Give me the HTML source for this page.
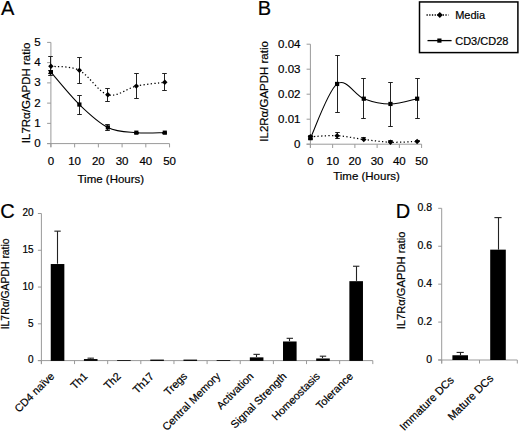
<!DOCTYPE html>
<html><head><meta charset="utf-8"><style>
html,body{margin:0;padding:0;background:#fff;width:520px;height:432px;overflow:hidden}
svg{display:block}
text{font-family:"Liberation Sans",sans-serif;fill:#000;stroke:#000;stroke-width:0.2px}
</style></head><body>
<svg width="520" height="432" viewBox="0 0 520 432">
<rect width="520" height="432" fill="#fff"/>
<text x="1" y="15.2" font-size="20" text-anchor="start">A</text>
<line x1="50.9" y1="42.4" x2="50.9" y2="147.1" stroke="#9a9a9a" stroke-width="1"/>
<line x1="47.1" y1="143.6" x2="50.9" y2="143.6" stroke="#9a9a9a" stroke-width="1"/>
<text x="40.6" y="147.1" font-size="11.5" text-anchor="end">0</text>
<line x1="47.1" y1="123.36" x2="50.9" y2="123.36" stroke="#9a9a9a" stroke-width="1"/>
<text x="40.6" y="126.86" font-size="11.5" text-anchor="end">1</text>
<line x1="47.1" y1="103.12" x2="50.9" y2="103.12" stroke="#9a9a9a" stroke-width="1"/>
<text x="40.6" y="106.62" font-size="11.5" text-anchor="end">2</text>
<line x1="47.1" y1="82.88" x2="50.9" y2="82.88" stroke="#9a9a9a" stroke-width="1"/>
<text x="40.6" y="86.38" font-size="11.5" text-anchor="end">3</text>
<line x1="47.1" y1="62.64" x2="50.9" y2="62.64" stroke="#9a9a9a" stroke-width="1"/>
<text x="40.6" y="66.14" font-size="11.5" text-anchor="end">4</text>
<line x1="47.1" y1="42.4" x2="50.9" y2="42.4" stroke="#9a9a9a" stroke-width="1"/>
<text x="40.6" y="45.9" font-size="11.5" text-anchor="end">5</text>
<line x1="47.1" y1="143.6" x2="169.55" y2="143.6" stroke="#9a9a9a" stroke-width="1"/>
<line x1="50.9" y1="143.6" x2="50.9" y2="147.4" stroke="#9a9a9a" stroke-width="1"/>
<text x="50.9" y="164.6" font-size="11.5" text-anchor="middle">0</text>
<line x1="74.63" y1="143.6" x2="74.63" y2="147.4" stroke="#9a9a9a" stroke-width="1"/>
<text x="74.63" y="164.6" font-size="11.5" text-anchor="middle">10</text>
<line x1="98.36" y1="143.6" x2="98.36" y2="147.4" stroke="#9a9a9a" stroke-width="1"/>
<text x="98.36" y="164.6" font-size="11.5" text-anchor="middle">20</text>
<line x1="122.09" y1="143.6" x2="122.09" y2="147.4" stroke="#9a9a9a" stroke-width="1"/>
<text x="122.09" y="164.6" font-size="11.5" text-anchor="middle">30</text>
<line x1="145.82" y1="143.6" x2="145.82" y2="147.4" stroke="#9a9a9a" stroke-width="1"/>
<text x="145.82" y="164.6" font-size="11.5" text-anchor="middle">40</text>
<line x1="169.55" y1="143.6" x2="169.55" y2="147.4" stroke="#9a9a9a" stroke-width="1"/>
<text x="169.55" y="164.6" font-size="11.5" text-anchor="middle">50</text>
<text x="110.85" y="182.6" font-size="11.5" text-anchor="middle">Time (Hours)</text>
<text x="0" y="0" font-size="11.5" text-anchor="middle" transform="translate(29.8,92.9) rotate(-90)">IL7R&#945;/GAPDH ratio</text>
<line x1="50.5" y1="56.77" x2="50.5" y2="75.8" stroke="#222" stroke-width="1"/>
<line x1="48.2" y1="56.5" x2="52.8" y2="56.5" stroke="#222" stroke-width="1"/>
<line x1="48.2" y1="75.5" x2="52.8" y2="75.5" stroke="#222" stroke-width="1"/>
<line x1="79.5" y1="57.78" x2="79.5" y2="83.28" stroke="#222" stroke-width="1"/>
<line x1="77.2" y1="57.5" x2="81.8" y2="57.5" stroke="#222" stroke-width="1"/>
<line x1="77.2" y1="83.5" x2="81.8" y2="83.5" stroke="#222" stroke-width="1"/>
<line x1="107.5" y1="88.55" x2="107.5" y2="101.1" stroke="#222" stroke-width="1"/>
<line x1="105.2" y1="88.5" x2="109.8" y2="88.5" stroke="#222" stroke-width="1"/>
<line x1="105.2" y1="101.5" x2="109.8" y2="101.5" stroke="#222" stroke-width="1"/>
<line x1="136.5" y1="73.97" x2="136.5" y2="98.87" stroke="#222" stroke-width="1"/>
<line x1="134.2" y1="73.5" x2="138.8" y2="73.5" stroke="#222" stroke-width="1"/>
<line x1="134.2" y1="98.5" x2="138.8" y2="98.5" stroke="#222" stroke-width="1"/>
<line x1="164.5" y1="73.97" x2="164.5" y2="90.98" stroke="#222" stroke-width="1"/>
<line x1="162.2" y1="73.5" x2="166.8" y2="73.5" stroke="#222" stroke-width="1"/>
<line x1="162.2" y1="90.5" x2="166.8" y2="90.5" stroke="#222" stroke-width="1"/>
<line x1="50.5" y1="70.74" x2="50.5" y2="73.77" stroke="#222" stroke-width="1"/>
<line x1="48.2" y1="70.5" x2="52.8" y2="70.5" stroke="#222" stroke-width="1"/>
<line x1="48.2" y1="73.5" x2="52.8" y2="73.5" stroke="#222" stroke-width="1"/>
<line x1="79.5" y1="95.63" x2="79.5" y2="114.05" stroke="#222" stroke-width="1"/>
<line x1="77.2" y1="95.5" x2="81.8" y2="95.5" stroke="#222" stroke-width="1"/>
<line x1="77.2" y1="114.5" x2="81.8" y2="114.5" stroke="#222" stroke-width="1"/>
<line x1="107.5" y1="124.78" x2="107.5" y2="130.04" stroke="#222" stroke-width="1"/>
<line x1="105.2" y1="124.5" x2="109.8" y2="124.5" stroke="#222" stroke-width="1"/>
<line x1="105.2" y1="130.5" x2="109.8" y2="130.5" stroke="#222" stroke-width="1"/>
<line x1="136.5" y1="132.06" x2="136.5" y2="133.28" stroke="#222" stroke-width="1"/>
<line x1="134.2" y1="132.5" x2="138.8" y2="132.5" stroke="#222" stroke-width="1"/>
<line x1="134.2" y1="133.5" x2="138.8" y2="133.5" stroke="#222" stroke-width="1"/>
<line x1="164.5" y1="132.06" x2="164.5" y2="133.28" stroke="#222" stroke-width="1"/>
<line x1="162.2" y1="132.5" x2="166.8" y2="132.5" stroke="#222" stroke-width="1"/>
<line x1="162.2" y1="133.5" x2="166.8" y2="133.5" stroke="#222" stroke-width="1"/>
<path d="M50.9,66.28 C55.65,66.96 69.88,65.57 79.38,70.33 C88.87,75.09 98.36,92.19 107.85,94.82 C117.34,97.45 126.84,88.21 136.33,86.12 C145.82,84.03 160.06,82.91 164.8,82.27" fill="none" stroke="#000" stroke-width="1.25" stroke-dasharray="1.3,2.3"/>
<path d="M50.9,72.15 C55.65,77.55 69.88,95.33 79.38,104.54 C88.87,113.75 98.36,122.72 107.85,127.41 C117.34,132.1 126.84,131.79 136.33,132.67 C145.82,133.55 160.06,132.67 164.8,132.67" fill="none" stroke="#000" stroke-width="1.05"/>
<path d="M50.9,63.58 L53.6,66.28 L50.9,68.98 L48.2,66.28 Z" fill="#000"/>
<path d="M79.38,67.63 L82.08,70.33 L79.38,73.03 L76.68,70.33 Z" fill="#000"/>
<path d="M107.85,92.12 L110.55,94.82 L107.85,97.52 L105.15,94.82 Z" fill="#000"/>
<path d="M136.33,83.42 L139.03,86.12 L136.33,88.82 L133.63,86.12 Z" fill="#000"/>
<path d="M164.8,79.57 L167.5,82.27 L164.8,84.97 L162.1,82.27 Z" fill="#000"/>
<rect x="48.8" y="70.05" width="4.2" height="4.2" fill="#000"/>
<rect x="77.28" y="102.44" width="4.2" height="4.2" fill="#000"/>
<rect x="105.75" y="125.31" width="4.2" height="4.2" fill="#000"/>
<rect x="134.23" y="130.57" width="4.2" height="4.2" fill="#000"/>
<rect x="162.7" y="130.57" width="4.2" height="4.2" fill="#000"/>
<text x="257.8" y="15.2" font-size="20" text-anchor="start">B</text>
<line x1="310.4" y1="44.2" x2="310.4" y2="147.7" stroke="#9a9a9a" stroke-width="1"/>
<line x1="306.6" y1="144.2" x2="310.4" y2="144.2" stroke="#9a9a9a" stroke-width="1"/>
<text x="300.5" y="147.6" font-size="11.5" text-anchor="end">0</text>
<line x1="306.6" y1="119.2" x2="310.4" y2="119.2" stroke="#9a9a9a" stroke-width="1"/>
<text x="300.5" y="122.6" font-size="11.5" text-anchor="end">0.01</text>
<line x1="306.6" y1="94.2" x2="310.4" y2="94.2" stroke="#9a9a9a" stroke-width="1"/>
<text x="300.5" y="97.6" font-size="11.5" text-anchor="end">0.02</text>
<line x1="306.6" y1="69.2" x2="310.4" y2="69.2" stroke="#9a9a9a" stroke-width="1"/>
<text x="300.5" y="72.6" font-size="11.5" text-anchor="end">0.03</text>
<line x1="306.6" y1="44.2" x2="310.4" y2="44.2" stroke="#9a9a9a" stroke-width="1"/>
<text x="300.5" y="47.6" font-size="11.5" text-anchor="end">0.04</text>
<line x1="306.6" y1="144.2" x2="421.6" y2="144.2" stroke="#9a9a9a" stroke-width="1"/>
<line x1="310.4" y1="144.2" x2="310.4" y2="148" stroke="#9a9a9a" stroke-width="1"/>
<text x="310.4" y="165.2" font-size="11.5" text-anchor="middle">0</text>
<line x1="332.64" y1="144.2" x2="332.64" y2="148" stroke="#9a9a9a" stroke-width="1"/>
<text x="332.64" y="165.2" font-size="11.5" text-anchor="middle">10</text>
<line x1="354.88" y1="144.2" x2="354.88" y2="148" stroke="#9a9a9a" stroke-width="1"/>
<text x="354.88" y="165.2" font-size="11.5" text-anchor="middle">20</text>
<line x1="377.12" y1="144.2" x2="377.12" y2="148" stroke="#9a9a9a" stroke-width="1"/>
<text x="377.12" y="165.2" font-size="11.5" text-anchor="middle">30</text>
<line x1="399.36" y1="144.2" x2="399.36" y2="148" stroke="#9a9a9a" stroke-width="1"/>
<text x="399.36" y="165.2" font-size="11.5" text-anchor="middle">40</text>
<line x1="421.6" y1="144.2" x2="421.6" y2="148" stroke="#9a9a9a" stroke-width="1"/>
<text x="421.6" y="165.2" font-size="11.5" text-anchor="middle">50</text>
<text x="366.5" y="179.6" font-size="11.5" text-anchor="middle">Time (Hours)</text>
<text x="0" y="0" font-size="11.5" text-anchor="middle" transform="translate(267.5,91.4) rotate(-90)">IL2R&#945;/GAPDH ratio</text>
<line x1="310.5" y1="135.2" x2="310.5" y2="138.2" stroke="#222" stroke-width="1"/>
<line x1="308.2" y1="135.5" x2="312.8" y2="135.5" stroke="#222" stroke-width="1"/>
<line x1="308.2" y1="138.5" x2="312.8" y2="138.5" stroke="#222" stroke-width="1"/>
<line x1="337.5" y1="132.2" x2="337.5" y2="138.7" stroke="#222" stroke-width="1"/>
<line x1="335.2" y1="132.5" x2="339.8" y2="132.5" stroke="#222" stroke-width="1"/>
<line x1="335.2" y1="138.5" x2="339.8" y2="138.5" stroke="#222" stroke-width="1"/>
<line x1="363.5" y1="137.95" x2="363.5" y2="139.95" stroke="#222" stroke-width="1"/>
<line x1="361.2" y1="137.5" x2="365.8" y2="137.5" stroke="#222" stroke-width="1"/>
<line x1="361.2" y1="139.5" x2="365.8" y2="139.5" stroke="#222" stroke-width="1"/>
<line x1="390.5" y1="140.95" x2="390.5" y2="141.95" stroke="#222" stroke-width="1"/>
<line x1="388.2" y1="140.5" x2="392.8" y2="140.5" stroke="#222" stroke-width="1"/>
<line x1="388.2" y1="141.5" x2="392.8" y2="141.5" stroke="#222" stroke-width="1"/>
<line x1="417.5" y1="140.95" x2="417.5" y2="141.95" stroke="#222" stroke-width="1"/>
<line x1="415.2" y1="140.5" x2="419.8" y2="140.5" stroke="#222" stroke-width="1"/>
<line x1="415.2" y1="141.5" x2="419.8" y2="141.5" stroke="#222" stroke-width="1"/>
<line x1="310.5" y1="136.7" x2="310.5" y2="139.7" stroke="#222" stroke-width="1"/>
<line x1="308.2" y1="136.5" x2="312.8" y2="136.5" stroke="#222" stroke-width="1"/>
<line x1="308.2" y1="139.5" x2="312.8" y2="139.5" stroke="#222" stroke-width="1"/>
<line x1="337.5" y1="55.7" x2="337.5" y2="112.2" stroke="#222" stroke-width="1"/>
<line x1="335.2" y1="55.5" x2="339.8" y2="55.5" stroke="#222" stroke-width="1"/>
<line x1="335.2" y1="112.5" x2="339.8" y2="112.5" stroke="#222" stroke-width="1"/>
<line x1="363.5" y1="78.7" x2="363.5" y2="118.95" stroke="#222" stroke-width="1"/>
<line x1="361.2" y1="78.5" x2="365.8" y2="78.5" stroke="#222" stroke-width="1"/>
<line x1="361.2" y1="118.5" x2="365.8" y2="118.5" stroke="#222" stroke-width="1"/>
<line x1="390.5" y1="82.7" x2="390.5" y2="126.2" stroke="#222" stroke-width="1"/>
<line x1="388.2" y1="82.5" x2="392.8" y2="82.5" stroke="#222" stroke-width="1"/>
<line x1="388.2" y1="126.5" x2="392.8" y2="126.5" stroke="#222" stroke-width="1"/>
<line x1="417.5" y1="78.7" x2="417.5" y2="118.45" stroke="#222" stroke-width="1"/>
<line x1="415.2" y1="78.5" x2="419.8" y2="78.5" stroke="#222" stroke-width="1"/>
<line x1="415.2" y1="118.5" x2="419.8" y2="118.5" stroke="#222" stroke-width="1"/>
<path d="M310.4,136.7 C314.85,136.53 328.19,135.24 337.09,135.7 C345.98,136.16 354.88,138.37 363.78,139.45 C372.67,140.53 381.57,141.87 390.46,142.2 C399.36,142.53 412.7,141.57 417.15,141.45" fill="none" stroke="#000" stroke-width="1.25" stroke-dasharray="1.3,2.3"/>
<path d="M310.4,138.2 C314.85,129.16 328.19,90.53 337.09,83.95 C345.98,77.37 354.88,95.37 363.78,98.7 C372.67,102.03 381.57,103.95 390.46,103.95 C399.36,103.95 412.7,99.57 417.15,98.7" fill="none" stroke="#000" stroke-width="1.05"/>
<path d="M310.4,134 L313.1,136.7 L310.4,139.4 L307.7,136.7 Z" fill="#000"/>
<path d="M337.09,133 L339.79,135.7 L337.09,138.4 L334.39,135.7 Z" fill="#000"/>
<path d="M363.78,136.75 L366.48,139.45 L363.78,142.15 L361.08,139.45 Z" fill="#000"/>
<path d="M390.46,139.5 L393.16,142.2 L390.46,144.9 L387.76,142.2 Z" fill="#000"/>
<path d="M417.15,138.75 L419.85,141.45 L417.15,144.15 L414.45,141.45 Z" fill="#000"/>
<rect x="308.3" y="136.1" width="4.2" height="4.2" fill="#000"/>
<rect x="334.99" y="81.85" width="4.2" height="4.2" fill="#000"/>
<rect x="361.68" y="96.6" width="4.2" height="4.2" fill="#000"/>
<rect x="388.36" y="101.85" width="4.2" height="4.2" fill="#000"/>
<rect x="415.05" y="96.6" width="4.2" height="4.2" fill="#000"/>
<rect x="419.5" y="1.95" width="98.4" height="50.65" fill="none" stroke="#000" stroke-width="1.5"/>
<line x1="426.5" y1="15" x2="448.5" y2="15" stroke="#000" stroke-width="1.3" stroke-dasharray="1.3,1.4"/>
<path d="M439.8,12 L442.8,15 L439.8,18 L436.8,15 Z" fill="#000"/>
<line x1="427.5" y1="40.6" x2="451.6" y2="40.6" stroke="#000" stroke-width="1.3"/>
<rect x="437.3" y="38.5" width="4.2" height="4.2" fill="#000"/>
<text x="455.2" y="19.2" font-size="11" text-anchor="start">Media</text>
<text x="455.2" y="44.5" font-size="11" text-anchor="start">CD3/CD28</text>
<text x="0.3" y="218.3" font-size="20" text-anchor="start">C</text>
<line x1="41.4" y1="213.5" x2="41.4" y2="364.1" stroke="#9a9a9a" stroke-width="1"/>
<line x1="37.9" y1="360.6" x2="41.4" y2="360.6" stroke="#9a9a9a" stroke-width="1"/>
<text x="33.5" y="363.4" font-size="10" text-anchor="end">0</text>
<line x1="37.9" y1="323.83" x2="41.4" y2="323.83" stroke="#9a9a9a" stroke-width="1"/>
<text x="33.5" y="326.63" font-size="10" text-anchor="end">5</text>
<line x1="37.9" y1="287.05" x2="41.4" y2="287.05" stroke="#9a9a9a" stroke-width="1"/>
<text x="33.5" y="289.85" font-size="10" text-anchor="end">10</text>
<line x1="37.9" y1="250.28" x2="41.4" y2="250.28" stroke="#9a9a9a" stroke-width="1"/>
<text x="33.5" y="253.08" font-size="10" text-anchor="end">15</text>
<line x1="37.9" y1="213.5" x2="41.4" y2="213.5" stroke="#9a9a9a" stroke-width="1"/>
<text x="33.5" y="216.3" font-size="10" text-anchor="end">20</text>
<line x1="37.9" y1="360.6" x2="372.8" y2="360.6" stroke="#9a9a9a" stroke-width="1"/>
<line x1="41.4" y1="360.6" x2="41.4" y2="364.1" stroke="#9a9a9a" stroke-width="1"/>
<line x1="74.54" y1="360.6" x2="74.54" y2="364.1" stroke="#9a9a9a" stroke-width="1"/>
<line x1="107.68" y1="360.6" x2="107.68" y2="364.1" stroke="#9a9a9a" stroke-width="1"/>
<line x1="140.82" y1="360.6" x2="140.82" y2="364.1" stroke="#9a9a9a" stroke-width="1"/>
<line x1="173.96" y1="360.6" x2="173.96" y2="364.1" stroke="#9a9a9a" stroke-width="1"/>
<line x1="207.1" y1="360.6" x2="207.1" y2="364.1" stroke="#9a9a9a" stroke-width="1"/>
<line x1="240.24" y1="360.6" x2="240.24" y2="364.1" stroke="#9a9a9a" stroke-width="1"/>
<line x1="273.38" y1="360.6" x2="273.38" y2="364.1" stroke="#9a9a9a" stroke-width="1"/>
<line x1="306.52" y1="360.6" x2="306.52" y2="364.1" stroke="#9a9a9a" stroke-width="1"/>
<line x1="339.66" y1="360.6" x2="339.66" y2="364.1" stroke="#9a9a9a" stroke-width="1"/>
<line x1="372.8" y1="360.6" x2="372.8" y2="364.1" stroke="#9a9a9a" stroke-width="1"/>
<text x="0" y="0" font-size="10.4" text-anchor="middle" transform="translate(8.5,283.85) rotate(-90)">IL7R&#945;/GAPDH ratio</text>
<rect x="50.75" y="264.03" width="13.6" height="96.87" fill="#000"/>
<line x1="57.5" y1="231.15" x2="57.5" y2="263.73" stroke="#222" stroke-width="1.1"/>
<line x1="54.35" y1="231.15" x2="60.75" y2="231.15" stroke="#222" stroke-width="1.1"/>
<text x="0" y="0" font-size="10.8" text-anchor="end" transform="translate(55.05,376.9) rotate(-45)">CD4 na&#239;ve</text>
<rect x="83.93" y="359.06" width="13.6" height="1.84" fill="#000"/>
<line x1="90.5" y1="358.17" x2="90.5" y2="358.76" stroke="#222" stroke-width="1.1"/>
<line x1="87.53" y1="358.17" x2="93.93" y2="358.17" stroke="#222" stroke-width="1.1"/>
<text x="0" y="0" font-size="10.8" text-anchor="end" transform="translate(88.23,376.9) rotate(-45)">Th1</text>
<rect x="117.11" y="360.1" width="13.6" height="0.8" fill="#000"/>
<text x="0" y="0" font-size="10.8" text-anchor="end" transform="translate(121.41,376.9) rotate(-45)">Th2</text>
<rect x="150.29" y="359.6" width="13.6" height="1.3" fill="#000"/>
<text x="0" y="0" font-size="10.8" text-anchor="end" transform="translate(154.59,376.9) rotate(-45)">Th17</text>
<rect x="183.47" y="359.6" width="13.6" height="1.3" fill="#000"/>
<text x="0" y="0" font-size="10.8" text-anchor="end" transform="translate(187.77,376.9) rotate(-45)">Tregs</text>
<rect x="216.65" y="360.1" width="13.6" height="0.8" fill="#000"/>
<text x="0" y="0" font-size="10.8" text-anchor="end" transform="translate(220.95,376.9) rotate(-45)">Central Memory</text>
<rect x="249.83" y="357.37" width="13.6" height="3.53" fill="#000"/>
<line x1="256.5" y1="354.35" x2="256.5" y2="357.07" stroke="#222" stroke-width="1.1"/>
<line x1="253.43" y1="354.35" x2="259.83" y2="354.35" stroke="#222" stroke-width="1.1"/>
<text x="0" y="0" font-size="10.8" text-anchor="end" transform="translate(254.13,376.9) rotate(-45)">Activation</text>
<rect x="283.01" y="341.48" width="13.6" height="19.42" fill="#000"/>
<line x1="289.5" y1="338.31" x2="289.5" y2="341.18" stroke="#222" stroke-width="1.1"/>
<line x1="286.61" y1="338.31" x2="293.01" y2="338.31" stroke="#222" stroke-width="1.1"/>
<text x="0" y="0" font-size="10.8" text-anchor="end" transform="translate(287.31,376.9) rotate(-45)">Signal Strength</text>
<rect x="316.19" y="358.47" width="13.6" height="2.43" fill="#000"/>
<line x1="322.5" y1="356.19" x2="322.5" y2="358.17" stroke="#222" stroke-width="1.1"/>
<line x1="319.79" y1="356.19" x2="326.19" y2="356.19" stroke="#222" stroke-width="1.1"/>
<text x="0" y="0" font-size="10.8" text-anchor="end" transform="translate(320.49,376.9) rotate(-45)">Homeostasis</text>
<rect x="349.37" y="281.17" width="13.6" height="79.73" fill="#000"/>
<line x1="356.5" y1="266.24" x2="356.5" y2="280.87" stroke="#222" stroke-width="1.1"/>
<line x1="352.97" y1="266.24" x2="359.37" y2="266.24" stroke="#222" stroke-width="1.1"/>
<text x="0" y="0" font-size="10.8" text-anchor="end" transform="translate(353.67,376.9) rotate(-45)">Tolerance</text>
<text x="395.7" y="217.6" font-size="20" text-anchor="start">D</text>
<line x1="441.7" y1="208.32" x2="441.7" y2="363.5" stroke="#9a9a9a" stroke-width="1"/>
<line x1="438.2" y1="360" x2="441.7" y2="360" stroke="#9a9a9a" stroke-width="1"/>
<text x="432" y="362.9" font-size="10.5" text-anchor="end">0</text>
<line x1="438.2" y1="322.08" x2="441.7" y2="322.08" stroke="#9a9a9a" stroke-width="1"/>
<text x="432" y="324.98" font-size="10.5" text-anchor="end">0.2</text>
<line x1="438.2" y1="284.16" x2="441.7" y2="284.16" stroke="#9a9a9a" stroke-width="1"/>
<text x="432" y="287.06" font-size="10.5" text-anchor="end">0.4</text>
<line x1="438.2" y1="246.24" x2="441.7" y2="246.24" stroke="#9a9a9a" stroke-width="1"/>
<text x="432" y="249.14" font-size="10.5" text-anchor="end">0.6</text>
<line x1="438.2" y1="208.32" x2="441.7" y2="208.32" stroke="#9a9a9a" stroke-width="1"/>
<text x="432" y="211.22" font-size="10.5" text-anchor="end">0.8</text>
<line x1="438.2" y1="360" x2="517.3" y2="360" stroke="#9a9a9a" stroke-width="1"/>
<line x1="441.7" y1="360" x2="441.7" y2="363.5" stroke="#9a9a9a" stroke-width="1"/>
<line x1="479.5" y1="360" x2="479.5" y2="363.5" stroke="#9a9a9a" stroke-width="1"/>
<line x1="517.3" y1="360" x2="517.3" y2="363.5" stroke="#9a9a9a" stroke-width="1"/>
<text x="0" y="0" font-size="11.2" text-anchor="middle" transform="translate(405.2,280.4) rotate(-90)">IL7R&#945;/GAPDH ratio</text>
<rect x="452.4" y="355.26" width="15.6" height="4.74" fill="#000"/>
<line x1="460.5" y1="352.42" x2="460.5" y2="355.26" stroke="#222" stroke-width="1.1"/>
<line x1="456.6" y1="352.42" x2="463.8" y2="352.42" stroke="#222" stroke-width="1.1"/>
<text x="0" y="0" font-size="11.1" text-anchor="end" transform="translate(454.7,380.7) rotate(-45)">Immature DCs</text>
<rect x="490.2" y="249.65" width="15.6" height="110.35" fill="#000"/>
<line x1="498.5" y1="217.61" x2="498.5" y2="249.65" stroke="#222" stroke-width="1.1"/>
<line x1="494.4" y1="217.61" x2="501.6" y2="217.61" stroke="#222" stroke-width="1.1"/>
<text x="0" y="0" font-size="11.1" text-anchor="end" transform="translate(494.1,379.1) rotate(-45)">Mature DCs</text>
</svg>
</body></html>
